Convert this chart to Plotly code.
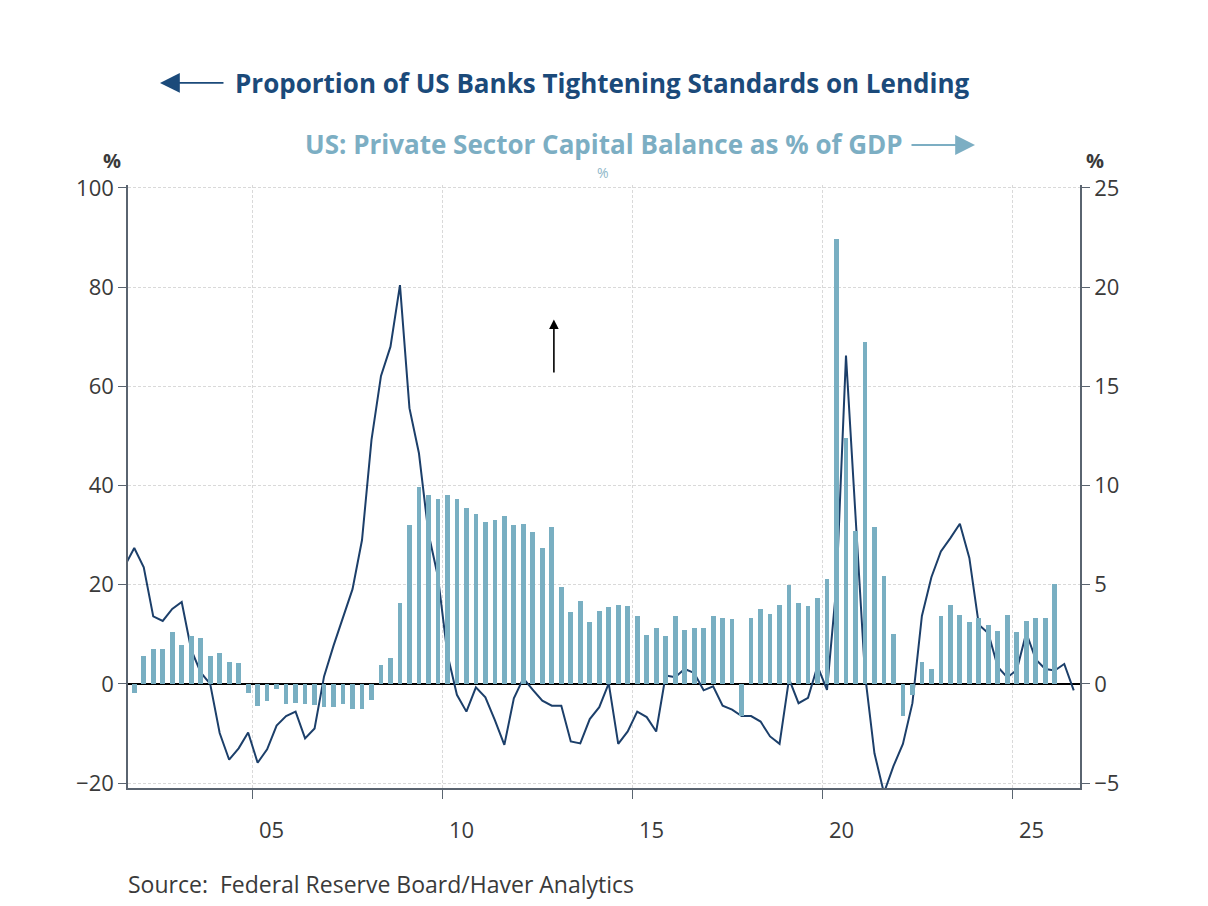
import pandas as pd
import plotly.graph_objects as go

# quarterly series, Q3 2001 .. Q3 2026 (line) and Q4 2001 .. Q1 2026 (bars)
line_quarters = pd.period_range("2001Q3", "2026Q3", freq="Q")
bar_quarters = pd.period_range("2001Q4", "2026Q1", freq="Q")

# Proportion of banks tightening standards (%), left axis
tightening = [
    23.8, 27.4,
    23.5, 13.6, 12.7, 15.1,
    16.5, 6.9, 2.3, 0.0,
    -9.9, -15.3, -13.0, -9.8,
    -15.9, -13.2, -8.4, -6.5,
    -5.6, -11.0, -9.0, 1.5,
    7.7, 13.6, 19.1, 29.0,
    49.2, 62.1, 68.0, 80.4,
    55.6, 46.5, 30.4, 21.6,
    6.0, -2.2, -5.6, -0.7,
    -2.7, -7.3, -12.3, -2.9,
    1.1, -1.2, -3.4, -4.4,
    -4.4, -11.6, -12.0, -7.1,
    -4.7, 0.1, -12.1, -9.6,
    -5.6, -6.7, -9.6, 1.7,
    1.35, 3.0, 2.2, -1.3,
    -0.5, -4.4, -5.2, -6.5,
    -6.5, -7.6, -10.6, -12.1,
    1.0, -3.9, -2.8, 3.6,
    -1.2, 20.0, 66.2, 34.0,
    2.0, -14.0, -22.0, -16.6,
    -12.1, -3.9, 13.7, 21.5,
    26.7, 29.4, 32.3, 25.4,
    11.9, 10.2, 3.4, 1.3,
    2.8, 10.3, 4.9, 3.0,
    2.7, 4.0, -1.3,
]

# Private sector capital balance (% of GDP), right axis
capital_balance = [
    -0.44,
    1.41, 1.76, 1.76, 2.62,
    1.96, 2.42, 2.30, 1.38,
    1.56, 1.11, 1.06, -0.44,
    -1.14, -0.84, -0.24, -0.99,
    -0.94, -1.04, -1.09, -1.19,
    -1.19, -0.99, -1.29, -1.29,
    -0.79, 0.96, 1.31, 4.08,
    8.02, 9.93, 9.51, 9.31,
    9.51, 9.31, 8.86, 8.56,
    8.15, 8.25, 8.45, 8.00,
    8.05, 7.65, 6.84, 7.90,
    4.88, 3.62, 4.18, 3.12,
    3.67, 3.88, 3.98, 3.93,
    3.42, 2.47, 2.82, 2.42,
    3.42, 2.72, 2.82, 2.82,
    3.42, 3.32, 3.27, -1.61,
    3.32, 3.77, 3.52, 3.98,
    4.98, 4.08, 3.95, 4.35,
    5.30, 22.45, 12.40, 7.70,
    17.25, 7.93, 5.42, 2.50,
    -1.62, -0.56, 1.08, 0.73,
    3.40, 3.99, 3.49, 3.10,
    3.32, 2.99, 2.69, 3.45,
    2.63, 3.15, 3.30, 3.30,
    5.06,
]

year_ticks = [2005, 2010, 2015, 2020, 2025]
year_labels = ["05", "10", "15", "20", "25"]
left_ticks = [-20, 0, 20, 40, 60, 80, 100]
right_ticks = [-5, 0, 5, 10, 15, 20, 25]


def mid_quarter(periods):
    return [p.year + (p.quarter - 0.5) / 4 for p in periods]


x_line = mid_quarter(line_quarters)
x_bar = mid_quarter(bar_quarters)

DARK = "#1b4a7a"
LINE = "#1c3f6a"
LIGHT = "#79afc2"
TITLE2 = "#7caec3"
TXT = "#3a3a3a"
AXIS = "#5a6470"
FONT = "Open Sans"

fig = go.Figure()

fig.add_trace(go.Bar(x=x_bar, y=capital_balance, yaxis="y2", width=0.125,
                     marker=dict(color=LIGHT, line=dict(width=0)),
                     name="US: Private Sector Capital Balance as % of GDP"))
fig.add_trace(go.Scatter(x=x_line, y=tightening, mode="lines",
                         line=dict(color=LINE, width=2),
                         name="Proportion of US Banks Tightening Standards on Lending"))

# page body has an 8px margin, so the plot box is shifted by that much
fig.update_layout(
    width=1208, height=906,
    margin=dict(l=120, r=136, t=177, b=126),
    paper_bgcolor="white", plot_bgcolor="white",
    showlegend=False,
    font=dict(family=FONT, size=19, color=TXT),
    xaxis=dict(range=[2001.71, 2026.79], tickvals=year_ticks, showticklabels=False,
               ticks="outside", ticklen=9, tickcolor=AXIS,
               showline=True, linecolor=AXIS, linewidth=1.5,
               showgrid=True, gridcolor="#d9d9d9", griddash="3px,2px", zeroline=False),
    yaxis=dict(range=[-21, 100.6], tickvals=left_ticks, ticks="outside", ticklen=8,
               tickcolor=AXIS, showline=True, linecolor=AXIS, linewidth=1.5,
               showgrid=True, gridcolor="#d9d9d9", griddash="3px,2px",
               zeroline=True, zerolinecolor="black", zerolinewidth=1.5,
               tickfont=dict(size=22, color=TXT)),
    yaxis2=dict(range=[-5.25, 25.15], tickvals=right_ticks, overlaying="y", side="right",
                ticks="outside", ticklen=8, tickcolor=AXIS,
                showline=True, linecolor=AXIS, linewidth=1.5,
                showgrid=False, zeroline=False, tickfont=dict(size=22, color=TXT)),
    bargap=0,
)

ann = []


def label(text, x, y, size, color, xanchor="center"):
    ann.append(dict(text=text, xref="paper", yref="paper", x=x, y=y,
                    xanchor=xanchor, yanchor="middle", showarrow=False,
                    font=dict(size=size, color=color)))


label("<b>Proportion of US Banks Tightening Standards on Lending</b>", 0.4984, 1.1692, 26, DARK)
label("<b>US: Private Sector Capital Balance as % of GDP</b>", 0.4995, 1.0680, 26, TITLE2)
label("%", 0.4989, 1.0215, 14, "#8fb8c9")
label("<b>%</b>", -0.0168, 1.0400, 20, TXT)
label("<b>%</b>", 1.0158, 1.0400, 20, TXT)
label("Source:  Federal Reserve Board/Haver Analytics", -0.0021, -0.1592, 23, TXT, "left")

# title arrows
ann.append(dict(text="", xref="paper", yref="paper", x=0.0336, y=1.1692,
                ax=65, ay=0, showarrow=True, arrowhead=2, arrowsize=2.2,
                arrowwidth=1.8, arrowcolor=DARK))
ann.append(dict(text="", xref="paper", yref="paper", x=0.8897, y=1.0663,
                ax=-65, ay=0, showarrow=True, arrowhead=2, arrowsize=2.2,
                arrowwidth=1.8, arrowcolor=TITLE2))

# year labels sit mid-year, between the tick marks
for yr, lab in zip(year_ticks, year_labels):
    ann.append(dict(text=lab, xref="x", yref="paper", x=yr + 0.5, y=-0.068,
                    yanchor="middle", showarrow=False, font=dict(size=22, color=TXT)))

# black marker arrow
ann.append(dict(text="", xref="x", yref="y", x=2012.93, y=73.5,
                axref="x", ayref="y", ax=2012.93, ay=62.5,
                showarrow=True, arrowhead=2, arrowsize=1.2, arrowwidth=1.6,
                arrowcolor="black"))
fig.update_layout(annotations=ann)

fig.write_html("out.html")
